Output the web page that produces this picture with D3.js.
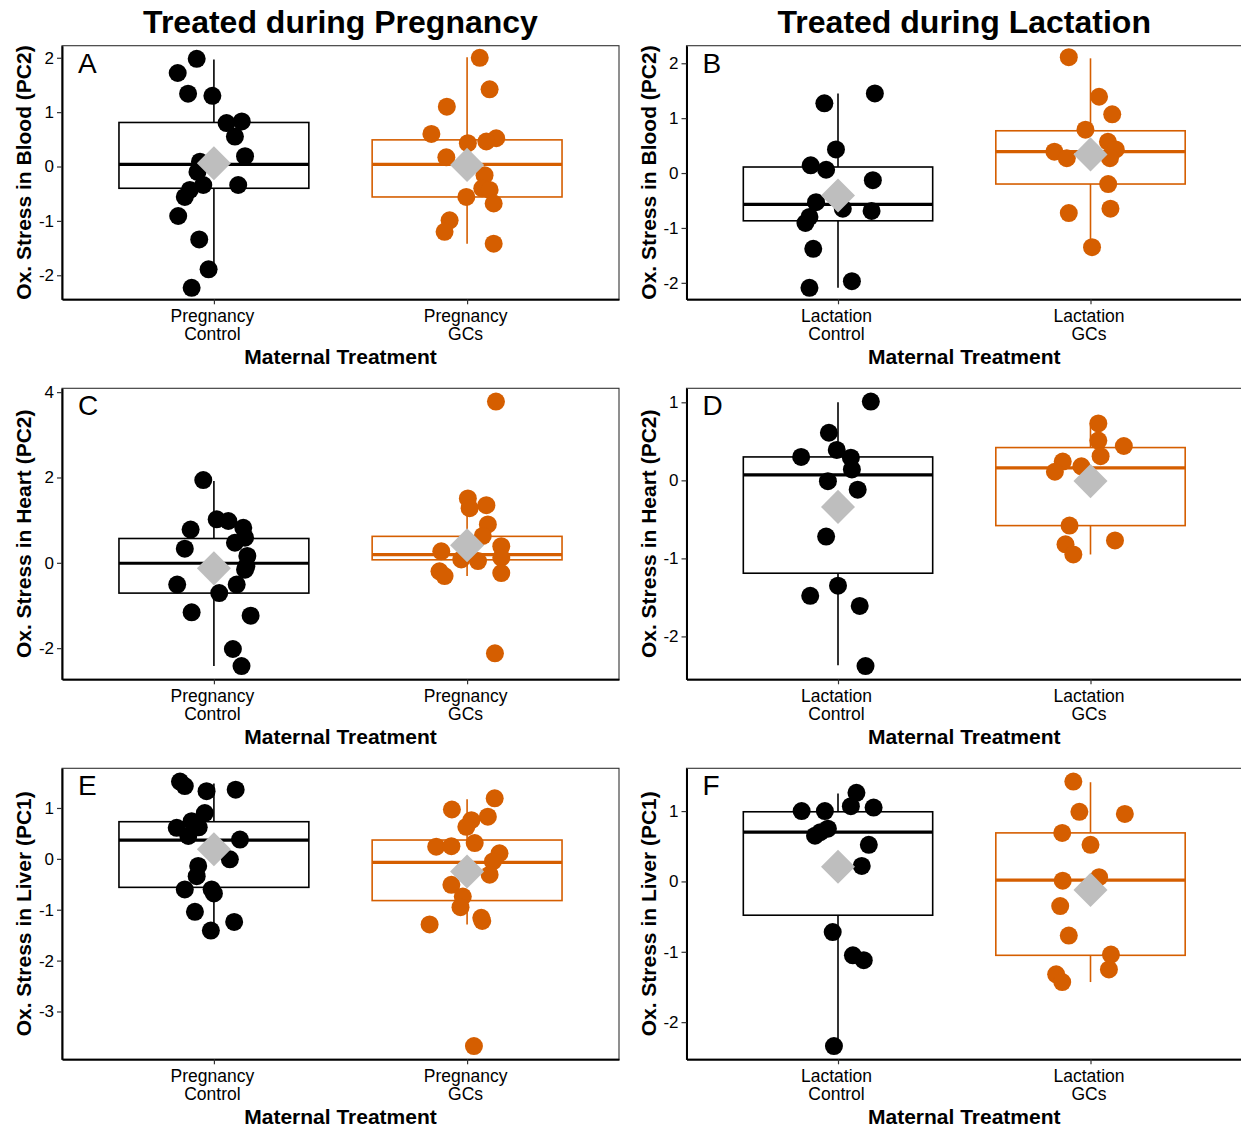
<!DOCTYPE html>
<html>
<head>
<meta charset="utf-8">
<style>
  body { margin: 0; background: #fff; }
  svg { display: block; font-family: "Liberation Sans", Arial, sans-serif; }
</style>
</head>
<body>
<div id="chart"></div>
<script src="https://d3js.org/d3.v7.min.js"></script>
<script>
// ---- data ----
const periods = ["Pregnancy", "Lactation"];
const groups = ["Control", "GCs"];
const tissues = ["Blood (PC2)", "Heart (PC2)", "Liver (PC1)"];
const letters = ["A", "B", "C", "D", "E", "F"];

const ticksA = [-2, -1, 0, 1, 2];
const ticksB = [-2, -1, 0, 1, 2];
const ticksC = [-2, 0, 2, 4];
const ticksD = [-2, -1, 0, 1];
const ticksE = [-3, -2, -1, 0, 1];
const ticksF = [-2, -1, 0, 1];

// points: [jitter in category units, value]
const ptsA_ctrl = [[-0.068, 1.98], [-0.143, 1.72], [-0.102, 1.34], [-0.006, 1.30], [0.050, 0.80], [0.110, 0.83],
  [0.083, 0.55], [0.123, 0.19], [-0.055, 0.09], [-0.065, -0.10], [-0.042, -0.34], [0.096, -0.34], [-0.095, -0.43],
  [-0.115, -0.56], [-0.141, -0.91], [-0.058, -1.34], [-0.021, -1.89], [-0.088, -2.23]];
const ptsA_gcs = [[0.05, 2.00], [0.089, 1.42], [-0.08, 1.10], [-0.141, 0.60], [0.115, 0.52], [0.076, 0.46],
  [0.003, 0.43], [-0.082, 0.17], [0.069, -0.16], [0.06, -0.40], [0.089, -0.43], [-0.003, -0.56], [0.105, -0.68],
  [-0.069, -0.99], [-0.089, -1.20], [0.105, -1.42]];
const ptsB_ctrl = [[-0.054, 1.27], [0.146, 1.45], [-0.008, 0.43], [-0.108, 0.14], [-0.047, 0.06], [0.138, -0.13],
  [-0.087, -0.53], [0.019, -0.65], [0.133, -0.69], [-0.113, -0.80], [-0.129, -0.91], [-0.098, -1.38],
  [0.055, -1.97], [-0.113, -2.09]];
const ptsB_gcs = [[-0.086, 2.11], [0.034, 1.39], [0.086, 1.07], [-0.02, 0.79], [0.069, 0.57], [0.1, 0.43],
  [-0.143, 0.39], [-0.094, 0.27], [0.077, 0.27], [0.07, -0.20], [-0.086, -0.73], [0.079, -0.65], [0.006, -1.35]];
const ptsC_ctrl = [[-0.042, 1.94], [0.011, 1.02], [0.057, 0.98], [-0.092, 0.78], [0.116, 0.82], [0.123, 0.59],
  [0.083, 0.47], [-0.115, 0.33], [0.132, 0.16], [0.128, -0.08], [0.123, -0.16], [0.09, -0.51], [-0.145, -0.51],
  [0.021, -0.71], [-0.088, -1.16], [0.145, -1.24], [0.075, -2.02], [0.109, -2.42]];
const ptsC_gcs = [[0.114, 3.78], [0.003, 1.51], [0.01, 1.28], [0.076, 1.35], [0.082, 0.90], [0.062, 0.63],
  [0.135, 0.39], [-0.102, 0.27], [0.135, 0.12], [0.043, 0.04], [-0.023, 0.08], [-0.109, -0.20], [0.135, -0.24],
  [-0.089, -0.31], [0.11, -2.12]];
const ptsD_ctrl = [[0.13, 1.01], [-0.036, 0.61], [-0.146, 0.30], [-0.005, 0.39], [0.051, 0.29], [0.055, 0.14],
  [-0.04, -0.01], [0.078, -0.12], [-0.047, -0.72], [-0.11, -1.48], [0, -1.35], [0.086, -1.61], [0.109, -2.38]];
const ptsD_gcs = [[0.031, 0.73], [0.031, 0.51], [0.132, 0.44], [0.04, 0.31], [-0.11, 0.24], [-0.036, 0.18],
  [-0.141, 0.11], [-0.083, -0.58], [0.097, -0.77], [-0.099, -0.82], [-0.068, -0.95]];
const ptsE_ctrl = [[-0.134, 1.52], [-0.115, 1.43], [-0.029, 1.33], [0.086, 1.36], [-0.036, 0.90], [-0.088, 0.74],
  [-0.147, 0.61], [-0.06, 0.62], [-0.101, 0.45], [0.103, 0.38], [0.063, -0.01], [-0.062, -0.14], [-0.068, -0.34],
  [-0.115, -0.60], [-0.009, -0.60], [0.0, -0.68], [-0.075, -1.04], [0.08, -1.24], [-0.012, -1.41]];
const ptsE_gcs = [[0.109, 1.19], [-0.06, 0.97], [0.082, 0.83], [0.017, 0.76], [-0.003, 0.63], [0.03, 0.31],
  [-0.122, 0.24], [-0.062, 0.25], [0.128, 0.11], [0.102, -0.05], [0.089, -0.31], [-0.062, -0.51], [-0.017, -0.74],
  [-0.026, -0.95], [0.056, -1.16], [0.06, -1.22], [-0.148, -1.29], [0.027, -3.68]];
const ptsF_ctrl = [[0.073, 1.26], [0.051, 1.07], [0.141, 1.05], [-0.144, 1.00], [-0.052, 1.00], [-0.04, 0.75],
  [-0.091, 0.65], [-0.07, 0.70], [0.122, 0.52], [0.094, 0.22], [-0.021, -0.72], [0.059, -1.05], [0.102, -1.12],
  [-0.016, -2.34]];
const ptsF_gcs = [[-0.068, 1.42], [-0.044, 0.99], [0.136, 0.96], [-0.112, 0.69], [0, 0.52], [-0.11, 0.01],
  [0.034, 0.06], [-0.12, -0.35], [-0.086, -0.77], [0.081, -1.04], [0.073, -1.25], [-0.136, -1.32], [-0.112, -1.43]];

// box stats: [lower whisker, q1, median, q3, upper whisker, mean]
const boxA = [[-1.89, -0.40, 0.04, 0.81, 1.97, 0.06], [-1.42, -0.56, 0.04, 0.49, 2.01, 0.03]];
const boxB = [[-2.09, -0.87, -0.57, 0.11, 1.45, -0.41], [-1.37, -0.20, 0.39, 0.77, 2.09, 0.34]];
const boxC = [[-2.42, -0.71, -0.01, 0.57, 1.92, -0.13], [-0.31, 0.07, 0.19, 0.62, 1.35, 0.41]];
const boxD = [[-2.37, -1.19, 0.07, 0.30, 1.00, -0.34], [-0.95, -0.58, 0.16, 0.42, 0.73, -0.01]];
const boxE = [[-1.39, -0.56, 0.37, 0.73, 1.48, 0.19], [-1.29, -0.82, -0.07, 0.37, 1.17, -0.25]];
const boxF = [[-2.34, -0.48, 0.70, 0.99, 1.25, 0.21], [-1.43, -1.05, 0.02, 0.69, 1.41, -0.12]];

const panels = [
  { pts: [ptsA_ctrl, ptsA_gcs], box: boxA, ticks: ticksA },
  { pts: [ptsB_ctrl, ptsB_gcs], box: boxB, ticks: ticksB },
  { pts: [ptsC_ctrl, ptsC_gcs], box: boxC, ticks: ticksC },
  { pts: [ptsD_ctrl, ptsD_gcs], box: boxD, ticks: ticksD },
  { pts: [ptsE_ctrl, ptsE_gcs], box: boxE, ticks: ticksE },
  { pts: [ptsF_ctrl, ptsF_gcs], box: boxF, ticks: ticksF }
];

// ---- layout ----
const width = 1241, height = 1128;
const colX = [[62, 619], [686.5, 1242]];
const rowY = [[45.7, 299.3], [388.3, 679.3], [768.3, 1059.3]];
const colors = ["#000000", "#D55E00"];

const svg = d3.select("#chart").append("svg")
  .attr("width", width)
  .attr("height", height);

periods.forEach((p, c) => {
  svg.append("text")
    .attr("x", (colX[c][0] + colX[c][1]) / 2)
    .attr("y", 33)
    .attr("text-anchor", "middle")
    .style("font-size", "32px")
    .style("font-weight", "bold")
    .text("Treated during " + p);
});

panels.forEach((pn, i) => {
  const row = Math.floor(i / 2), col = i % 2;
  const [x0, x1] = colX[col];
  const [y0, y1] = rowY[row];
  const period = periods[col];

  const x = d3.scalePoint().domain(groups).range([x0, x1]).padding(0.6);
  const step = x.step();

  // y range like ggplot: data extent + 5%
  const allVals = pn.pts.flat().map(d => d[1]).concat(pn.box.flat());
  const ext = d3.extent(allVals);
  const pad = (ext[1] - ext[0]) * 0.05;
  const y = d3.scaleLinear().domain([ext[0] - pad, ext[1] + pad]).range([y1, y0]);

  const g = svg.append("g");

  // panel border
  g.append("rect")
    .attr("x", x0).attr("y", y0)
    .attr("width", x1 - x0).attr("height", y1 - y0)
    .attr("fill", "none")
    .attr("stroke", "#333")
    .attr("stroke-width", 1.1);

  // boxplots
  groups.forEach((grp, k) => {
    const b = pn.box[k];
    const cx = x(grp);
    const hw = step * 0.375;
    const bg = g.append("g").attr("stroke", colors[k]).attr("fill", "none");
    bg.append("line").attr("x1", cx).attr("x2", cx).attr("y1", y(b[3])).attr("y2", y(b[4])).attr("stroke-width", 1.6);
    bg.append("line").attr("x1", cx).attr("x2", cx).attr("y1", y(b[1])).attr("y2", y(b[0])).attr("stroke-width", 1.6);
    bg.append("rect")
      .attr("x", cx - hw).attr("width", hw * 2)
      .attr("y", y(b[3])).attr("height", y(b[1]) - y(b[3]))
      .attr("fill", "#fff").attr("stroke-width", 1.6);
    bg.append("line").attr("x1", cx - hw).attr("x2", cx + hw)
      .attr("y1", y(b[2])).attr("y2", y(b[2])).attr("stroke-width", 3.2);
  });

  // jittered points
  groups.forEach((grp, k) => {
    g.append("g").selectAll("circle")
      .data(pn.pts[k])
      .join("circle")
      .attr("cx", d => x(grp) + d[0] * step)
      .attr("cy", d => y(d[1]))
      .attr("r", 9)
      .attr("fill", colors[k]);
  });

  // means
  const diamond = d3.symbol(d3.symbolSquare, 580);
  groups.forEach((grp, k) => {
    g.append("path")
      .attr("d", diamond())
      .attr("transform", `translate(${x(grp)},${y(pn.box[k][5])}) rotate(45)`)
      .attr("fill", "#BEBEBE");
  });

  // axes
  const yAxis = g.append("g")
    .attr("transform", `translate(${x0},0)`)
    .call(d3.axisLeft(y).tickValues(pn.ticks).tickFormat(d => String(d))
      .tickSize(5).tickSizeOuter(0).tickPadding(3));
  yAxis.select(".domain").attr("stroke", "#000").attr("stroke-width", 2);
  yAxis.selectAll(".tick line").attr("stroke", "#333").attr("stroke-width", 1.2);
  yAxis.selectAll(".tick text")
    .style("font-size", "17px")
    .style("font-family", "'Liberation Sans', Arial, sans-serif")
    .attr("fill", "#000");

  const xAxis = g.append("g")
    .attr("transform", `translate(0,${y1})`)
    .call(d3.axisBottom(x).tickSize(5).tickSizeOuter(0));
  xAxis.select(".domain").attr("stroke", "#000").attr("stroke-width", 2);
  xAxis.selectAll(".tick line").attr("stroke", "#333").attr("stroke-width", 1.2);
  xAxis.selectAll(".tick text").remove();
  xAxis.selectAll(".tick").each(function(grp) {
    const t = d3.select(this).append("text")
      .attr("text-anchor", "middle")
      .attr("fill", "#000")
      .style("font-size", "17.5px")
      .style("font-family", "'Liberation Sans', Arial, sans-serif");
    t.append("tspan").attr("x", -2).attr("y", 22.4).text(period);
    t.append("tspan").attr("x", -2).attr("y", 40.7).text(grp);
  });

  // axis titles
  g.append("text")
    .attr("x", (x0 + x1) / 2)
    .attr("y", y1 + 64.5)
    .attr("text-anchor", "middle")
    .style("font-size", "21px")
    .style("font-weight", "bold")
    .text("Maternal Treatment");

  g.append("text")
    .attr("transform", `translate(${x0 - 31},${(y0 + y1) / 2}) rotate(-90)`)
    .attr("text-anchor", "middle")
    .style("font-size", "21px")
    .style("font-weight", "bold")
    .text("Ox. Stress in " + tissues[row]);

  // panel letter
  g.append("text")
    .attr("x", x0 + 16)
    .attr("y", y0 + 27)
    .style("font-size", "28px")
    .text(letters[i]);
});
</script>
</body>
</html>
